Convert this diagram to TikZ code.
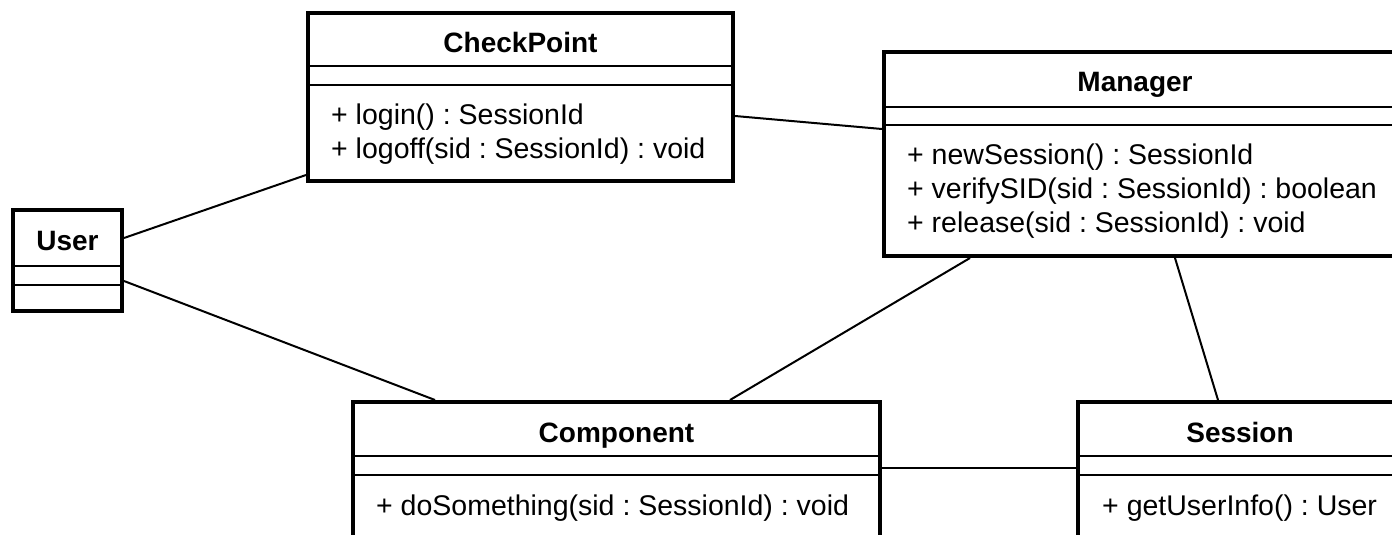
\documentclass[tikz,border=0pt]{standalone}
\usepackage{fontspec}
\setmainfont{Liberation Sans}
\usetikzlibrary{calc}
\frenchspacing

\begin{document}
\begin{tikzpicture}[x=1pt,y=-1pt,
 cls/.style={draw,line width=4pt,anchor=north west,inner sep=0pt},
 sep/.style={line width=2pt},
 assoc/.style={line width=2pt},
 ttl/.style={anchor=base,inner sep=0pt,font=\fontsize{28}{34}\selectfont\bfseries},
 op/.style={anchor=base west,inner sep=0pt,font=\fontsize{28.5}{34}\selectfont}]
 \useasboundingbox (0,0) rectangle (1392,535);
 \clip (0,0) rectangle (1392,535);
 % classes
 \node[cls,minimum width=109pt,minimum height=101pt] (usr) at (11,208) {};
 \node[cls,minimum width=425pt,minimum height=168pt] (chk) at (306,11) {};
 \node[cls,minimum width=516pt,minimum height=204pt] (mgr) at (882,50) {};
 \node[cls,minimum width=527pt,minimum height=200pt] (cmp) at (351,400) {};
 \node[cls,minimum width=324pt,minimum height=200pt] (ses) at (1076,400) {};
 \foreach \c/\a/\b in {usr/58/77,chk/55/74,mgr/57/75,cmp/56/75,ses/56/75} {
  \draw[sep] ($(\c.north west)+(0,\a)$) -- ($(\c.north east)+(0,\a)$);
  \draw[sep] ($(\c.north west)+(0,\b)$) -- ($(\c.north east)+(0,\b)$);
 }
 \node[ttl] (usrT) at ($(usr.north)+(0,42)$) {User};
 \node[ttl] (chkT) at ($(chk.north)+(0,42)$) {CheckPoint};
 \node[ttl] (mgrT) at ($(mgr.north)+(-7,42)$) {Manager};
 \node[ttl] (cmpT) at ($(cmp.north)+(0,42)$) {Component};
 \node[ttl] (sesT) at ($(ses.north)+(0,42)$) {Session};
 % operations
 \foreach \t [count=\i] in {{+ login() : SessionId},{+ logoff(sid : SessionId) : void}}
  \node[op] (chkO\i) at ($(chk.north west)+(25,79+34*\i)$) {\t};
 \foreach \t [count=\i] in {{+ newSession() : SessionId},{+ verifySID(sid : SessionId) : boolean},{+ release(sid : SessionId) : void}}
  \node[op] (mgrO\i) at ($(mgr.north west)+(25,80+34*\i)$) {\t};
 \node[op] (cmpO1) at ($(cmp.north west)+(25,115)$) {+ doSomething(sid : SessionId) : void};
 \node[op] (sesO1) at ($(ses.north west)+(26,115)$) {+ getUserInfo() : User};
 % associations
 \draw[assoc] ($(usr.north east)+(0,30)$) -- ($(chk.south west)+(0,-8)$);
 \draw[assoc] ($(usr.north east)+(0,73)$) -- ($(cmp.north west)+(84,0)$);
 \draw[assoc] ($(chk.north east)+(0,105)$) -- ($(mgr.north west)+(0,79)$);
 \draw[assoc] ($(mgr.south west)+(88,0)$) -- ($(cmp.north west)+(379,0)$);
 \draw[assoc] ($(mgr.south west)+(293,0)$) -- ($(ses.north west)+(142,0)$);
 \draw[assoc] ($(cmp.north east)+(0,68)$) -- ($(ses.north west)+(0,68)$);
\end{tikzpicture}
\end{document}
